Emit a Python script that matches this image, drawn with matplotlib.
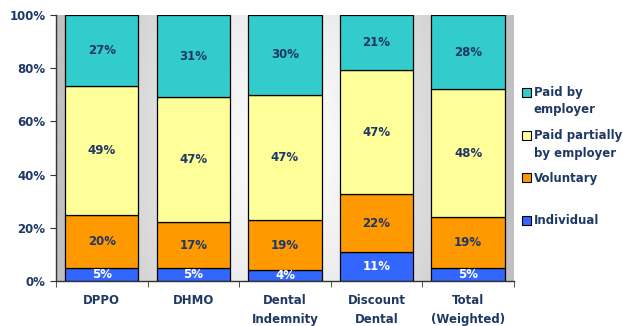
import numpy as np
import matplotlib.pyplot as plt
from matplotlib.patches import Rectangle

categories = ["DPPO", "DHMO", "Dental\nIndemnity", "Discount\nDental", "Total\n(Weighted)"]
individual = [5, 5, 4, 11, 5]
voluntary = [20, 17, 19, 22, 19]
paid_partially = [49, 47, 47, 47, 48]
paid_by_employer = [27, 31, 30, 21, 28]

series_names = ["Individual", "Voluntary", "Paid partially\nby employer", "Paid by\nemployer"]
series_colors = ["#3366FF", "#FF9900", "#FFFF99", "#33CCCC"]
label_colors = ["white", "#1F3864", "#1F3864", "#1F3864"]
navy = "#1F3864"

plt.rcParams["font.family"] = ["DejaVu Sans"]

series = np.array([individual, voluntary, paid_partially, paid_by_employer], dtype=float)
# 100% stacked: each column scaled to its own total
shares = series / series.sum(axis=0) * 100

fig = plt.figure(figsize=(6.23, 3.26), dpi=100)
ax = fig.add_axes([0.0899, 0.138, 0.735, 0.816])

# shaded backdrop behind the columns, light in the middle, grey toward the sides
gx, gy = np.meshgrid(np.linspace(-1, 1, 400), np.linspace(-1, 1, 200))
r = np.sqrt((gx / 0.95) ** 2 + (gy / 3.0) ** 2)
shade = 1.0 - 0.25 * np.clip(r, 0, 1) ** 1.3
ax.imshow(shade, cmap="gray", vmin=0, vmax=1, extent=[-0.5, 4.5, 0, 100],
          aspect="auto", zorder=0, interpolation="bilinear")

x = np.arange(len(categories))
bottom = np.zeros(len(categories))
for vals, raw, color, tcolor in zip(shares, series, series_colors, label_colors):
    ax.bar(x, vals, width=0.8, bottom=bottom, color=color, edgecolor="black",
           linewidth=0.9, zorder=2)
    for xi, b, v, lab in zip(x, bottom, vals, raw):
        ax.text(xi, b + v / 2, f"{lab:.0f}%", ha="center", va="center",
                color=tcolor, fontsize=8.5, fontweight="bold", zorder=3)
    bottom += vals

ax.set_xlim(-0.5, 4.5)
ax.set_ylim(0, 100)
ax.set_yticks(np.arange(0, 101, 20))
ax.set_yticklabels([f"{v}%" for v in range(0, 101, 20)])
ax.set_xticks(x)
ax.set_xticklabels(categories)
ax.set_xticks(np.arange(-0.5, 5, 1), minor=True)
ax.tick_params(axis="x", which="major", length=0, pad=9)
ax.tick_params(axis="x", which="minor", length=4, direction="out", color="#333333")
ax.tick_params(axis="y", length=4, direction="out", color="#333333")
for lbl in ax.get_xticklabels() + ax.get_yticklabels():
    lbl.set_color(navy)
    lbl.set_fontweight("bold")
    lbl.set_fontsize(8.5)
    lbl.set_linespacing(1.6)
for side in ["top", "right"]:
    ax.spines[side].set_visible(False)
for side in ["left", "bottom"]:
    ax.spines[side].set_color("#333333")
    ax.spines[side].set_linewidth(1.0)

# legend, top entry first
legend_rows = [(1 - 92 / 326, 3), (1 - 135 / 326, 2), (1 - 178 / 326, 1), (1 - 220 / 326, 0)]
for y, idx in legend_rows:
    fig.patches.append(Rectangle((522 / 623, y - 4.5 / 326), 9 / 623, 9 / 326,
                                 transform=fig.transFigure, facecolor=series_colors[idx],
                                 edgecolor="black", linewidth=0.8))
    fig.text(534 / 623, y + 6 / 326, series_names[idx], ha="left", va="top",
             color=navy, fontsize=8.5, fontweight="bold", linespacing=1.45)

fig.savefig("out.png", dpi=100, facecolor="white")
